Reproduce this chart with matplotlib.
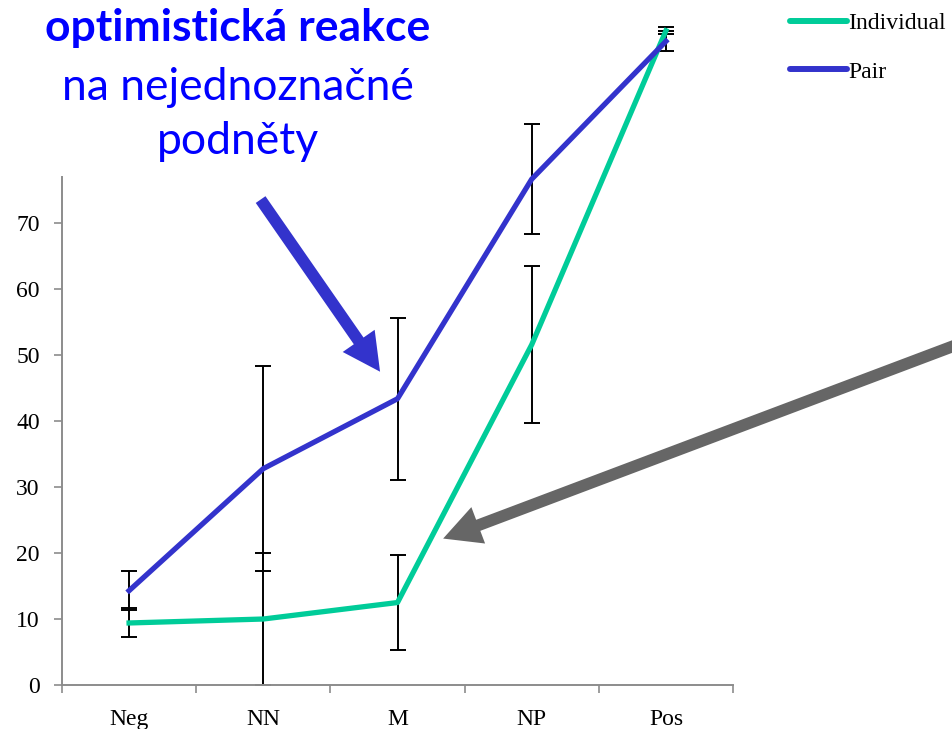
import matplotlib.pyplot as plt
from matplotlib.patches import FancyArrowPatch

categories = ["Neg", "NN", "M", "NP", "Pos"]
individual = [9.4, 10.0, 12.5, 51.6, 99.2]
individual_err = [2.2, 10.0, 7.2, 11.9, 0.5]
pair = [14.3, 32.8, 43.4, 76.7, 97.6]
pair_err = [3.0, 15.5, 12.3, 8.3, 1.5]

green = "#00CC99"
blue = "#3333CC"
grey = "#8C8C8C"


def generate_visualization():
    fig = plt.figure(figsize=(9.52, 7.29), dpi=100)
    ax = fig.add_axes([0.0651, 0.0604, 0.770 - 0.0651, 0.757 - 0.0604])
    x = list(range(len(categories)))

    ax.errorbar(x, individual, yerr=individual_err, fmt="none", ecolor="black",
                elinewidth=1.4, capsize=6, capthick=1.4, clip_on=False, zorder=2)
    ax.errorbar(x, pair, yerr=pair_err, fmt="none", ecolor="black",
                elinewidth=1.4, capsize=6, capthick=1.4, clip_on=False, zorder=2)
    ax.plot(x, individual, color=green, lw=3.8, label="Individual", clip_on=False, zorder=3)
    ax.plot(x, pair, color=blue, lw=3.8, label="Pair", clip_on=False, zorder=3)

    ax.set_xlim(-0.5, 4.5)
    ax.set_ylim(0, 77)
    ax.set_yticks(range(0, 80, 10))
    ax.set_xticks([i - 0.5 for i in range(6)], minor=False)
    ax.set_xticklabels([])
    ax.set_xticks(x, minor=True)
    ax.set_xticklabels(categories, minor=True, fontsize=17, family="Liberation Serif")
    ax.tick_params(axis="x", which="minor", length=0, pad=17)
    ax.tick_params(axis="x", which="major", length=6, width=1.2, color=grey)
    ax.tick_params(axis="y", length=6, width=1.2, color=grey, pad=10, labelsize=17)
    for lab in ax.get_yticklabels():
        lab.set_family("Liberation Serif")
    for s in ["top", "right"]:
        ax.spines[s].set_visible(False)
    for s in ["left", "bottom"]:
        ax.spines[s].set_color(grey)
        ax.spines[s].set_linewidth(1.4)

    leg = fig.legend(loc="upper left", bbox_to_anchor=(0.808, 1.012), frameon=False,
                     handlelength=2.4, handletextpad=0.05, labelspacing=1.15,
                     prop={"family": "Liberation Serif", "size": 17})
    for line in leg.get_lines():
        line.set_linewidth(4.3)
        line.set_solid_capstyle("round")

    # annotation text
    fig.text(238 / 952, 1 - 28 / 729, "optimistická reakce", color="#0000FF", fontsize=32,
             fontweight="bold", family="Lato", ha="center", va="center")
    fig.text(238 / 952, 1 - 87 / 729, "na nejednoznačné", color="#0000FF", fontsize=32,
             family="Lato", ha="center", va="center")
    fig.text(238 / 952, 1 - 142 / 729, "podněty", color="#0000FF", fontsize=32,
             family="Lato", ha="center", va="center")

    # arrows
    style = "simple,head_length=2.7,head_width=2.8,tail_width=0.85"
    a1 = FancyArrowPatch((0.98, 73.6), (1.87, 47.5), arrowstyle=style, mutation_scale=10,
                         color=blue, lw=0, shrinkA=0, shrinkB=0, transform=ax.transData,
                         clip_on=False, zorder=5)
    a2 = FancyArrowPatch((6.3, 52.6), (2.34, 22.2), arrowstyle=style, mutation_scale=10,
                         color="#666666", lw=0, shrinkA=0, shrinkB=0, transform=ax.transData,
                         clip_on=False, zorder=5)
    ax.add_patch(a1)
    ax.add_patch(a2)

    fig.savefig("out.png", dpi=100)


if __name__ == "__main__":
    generate_visualization()
